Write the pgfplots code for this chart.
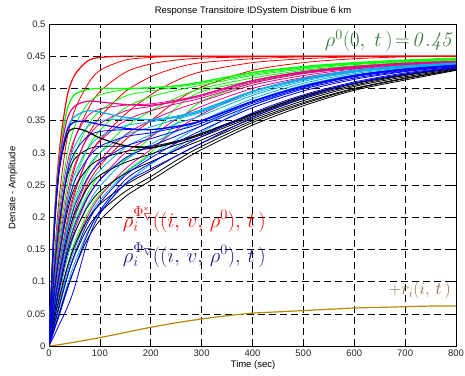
\documentclass[border=0pt]{standalone}
\usepackage{pgfplots}
\usepackage{pgfplotstable}
\pgfplotsset{compat=1.18}
\usepackage[no-math]{fontspec}
\setmainfont{Liberation Sans}
\definecolor{anngreen}{rgb}{0.24,0.47,0.24}
\definecolor{annnavy}{rgb}{0.12,0.12,0.55}
\definecolor{annbrown}{rgb}{0.55,0.42,0.25}
\definecolor{ochre}{rgb}{0.72,0.53,0.04}

\pgfplotstableread{
t c0 c1 c2 c3 c4 c5
0 0 0 0 0 0 0
10 0.19 0.13 0.095 0.075 0.06 0.05
20 0.30 0.23 0.175 0.14 0.115 0.095
35 0.385 0.32 0.265 0.22 0.185 0.155
50 0.42 0.365 0.32 0.275 0.235 0.2
75 0.442 0.405 0.365 0.325 0.29 0.25
100 0.448 0.428 0.395 0.355 0.32 0.28
150 0.45 0.444 0.425 0.395 0.36 0.32
200 0.45 0.448 0.438 0.418 0.39 0.35
250 0.45 0.45 0.444 0.432 0.412 0.38
300 0.45 0.45 0.447 0.44 0.426 0.402
400 0.45 0.45 0.449 0.446 0.44 0.428
500 0.45 0.45 0.45 0.449 0.446 0.44
600 0.45 0.45 0.45 0.45 0.449 0.446
700 0.45 0.45 0.45 0.45 0.45 0.449
800 0.45 0.45 0.45 0.45 0.45 0.45
}\redtab

\pgfplotstableread{
t c0 c1 c2 c3 c4 c5 c6
0 0 0 0 0 0 0 0
10 0.185 0.125 0.09 0.072 0.058 0.048 0.038
20 0.29 0.215 0.165 0.132 0.11 0.09 0.072
35 0.365 0.295 0.245 0.205 0.175 0.148 0.12
50 0.39 0.34 0.295 0.255 0.22 0.19 0.16
75 0.398 0.375 0.34 0.305 0.27 0.235 0.205
100 0.40 0.39 0.365 0.335 0.30 0.265 0.235
150 0.40 0.398 0.388 0.37 0.34 0.29 0.27
200 0.401 0.401 0.396 0.387 0.365 0.325 0.30
250 0.404 0.404 0.402 0.397 0.385 0.37 0.345
300 0.41 0.41 0.408 0.405 0.40 0.395 0.38
400 0.425 0.424 0.422 0.42 0.416 0.412 0.408
500 0.434 0.433 0.432 0.43 0.428 0.425 0.423
600 0.44 0.439 0.438 0.437 0.435 0.433 0.432
700 0.444 0.443 0.442 0.441 0.44 0.438 0.437
800 0.447 0.446 0.445 0.444 0.443 0.442 0.441
}\greentab

\pgfplotstableread{
t c0 c1 c2 c3 c4 c5 c6
0 0 0 0 0 0 0 0
10 0.18 0.12 0.088 0.07 0.056 0.046 0.036
20 0.285 0.205 0.155 0.125 0.102 0.086 0.07
35 0.35 0.28 0.232 0.192 0.162 0.14 0.118
50 0.372 0.322 0.28 0.24 0.208 0.18 0.155
75 0.38 0.356 0.322 0.29 0.258 0.228 0.20
100 0.379 0.368 0.345 0.318 0.288 0.258 0.232
150 0.375 0.374 0.365 0.35 0.328 0.30 0.275
200 0.374 0.376 0.372 0.365 0.35 0.325 0.305
250 0.38 0.382 0.38 0.376 0.367 0.352 0.335
300 0.39 0.39 0.388 0.385 0.38 0.372 0.36
400 0.412 0.412 0.41 0.408 0.405 0.40 0.395
500 0.426 0.425 0.424 0.423 0.42 0.417 0.414
600 0.434 0.433 0.432 0.431 0.43 0.428 0.426
700 0.439 0.438 0.437 0.437 0.436 0.435 0.434
800 0.442 0.441 0.441 0.44 0.44 0.439 0.438
}\magtab

\pgfplotstableread{
t c0 c1 c2 c3 c4 c5 c6 c7
0 0 0 0 0 0 0 0 0
10 0.175 0.115 0.085 0.066 0.052 0.043 0.034 0.026
20 0.275 0.195 0.148 0.118 0.097 0.081 0.066 0.052
35 0.335 0.27 0.222 0.182 0.155 0.133 0.112 0.092
50 0.356 0.31 0.266 0.228 0.198 0.173 0.15 0.128
75 0.365 0.34 0.305 0.275 0.245 0.218 0.195 0.175
100 0.363 0.35 0.325 0.30 0.273 0.248 0.226 0.208
150 0.355 0.352 0.342 0.327 0.308 0.288 0.268 0.252
200 0.351 0.352 0.348 0.34 0.328 0.313 0.296 0.282
250 0.355 0.357 0.356 0.352 0.345 0.333 0.32 0.308
300 0.365 0.367 0.367 0.363 0.358 0.35 0.342 0.332
400 0.395 0.396 0.395 0.392 0.389 0.384 0.38 0.374
500 0.415 0.416 0.415 0.413 0.411 0.408 0.405 0.401
600 0.428 0.428 0.427 0.426 0.425 0.423 0.421 0.419
700 0.435 0.435 0.434 0.433 0.433 0.432 0.431 0.43
800 0.439 0.439 0.438 0.438 0.437 0.437 0.436 0.436
}\cyantab

\pgfplotstableread{
t c0 c1 c2 c3 c4 c5 c6 c7
0 0 0 0 0 0 0 0 0
10 0.175 0.112 0.082 0.062 0.049 0.016 0.03 0.024
20 0.275 0.19 0.142 0.112 0.092 0.033 0.06 0.047
35 0.333 0.265 0.212 0.172 0.146 0.058 0.105 0.085
50 0.348 0.30 0.255 0.216 0.186 0.09 0.142 0.12
75 0.348 0.325 0.29 0.26 0.23 0.16 0.19 0.172
100 0.344 0.333 0.31 0.285 0.258 0.205 0.222 0.21
150 0.338 0.336 0.325 0.31 0.292 0.252 0.265 0.258
200 0.336 0.336 0.331 0.322 0.31 0.275 0.292 0.284
250 0.341 0.341 0.339 0.334 0.326 0.295 0.315 0.305
300 0.35 0.35 0.349 0.346 0.342 0.315 0.335 0.325
400 0.38 0.38 0.379 0.377 0.374 0.355 0.37 0.362
500 0.403 0.404 0.403 0.401 0.399 0.385 0.396 0.39
600 0.42 0.42 0.419 0.418 0.416 0.408 0.414 0.41
700 0.43 0.43 0.429 0.428 0.427 0.422 0.426 0.424
800 0.436 0.436 0.435 0.435 0.434 0.431 0.434 0.433
}\bluetab

\pgfplotstableread{
t c0 c1 c2 c3 c4 c5 c6 c7
0 0 0 0 0 0 0 0 0
10 0.175 0.11 0.08 0.06 0.047 0.04 0.032 0.025
20 0.272 0.188 0.14 0.11 0.088 0.075 0.062 0.05
35 0.327 0.26 0.205 0.165 0.14 0.12 0.105 0.088
50 0.338 0.29 0.245 0.205 0.175 0.155 0.14 0.12
75 0.333 0.305 0.275 0.245 0.215 0.195 0.182 0.165
100 0.323 0.31 0.29 0.265 0.24 0.22 0.208 0.195
150 0.311 0.31 0.302 0.285 0.268 0.25 0.24 0.232
200 0.308 0.31 0.307 0.298 0.286 0.272 0.263 0.257
250 0.317 0.318 0.316 0.312 0.304 0.295 0.288 0.282
300 0.33 0.33 0.328 0.325 0.32 0.315 0.31 0.305
400 0.36 0.36 0.358 0.356 0.353 0.35 0.347 0.343
500 0.388 0.388 0.386 0.384 0.381 0.378 0.376 0.373
600 0.408 0.408 0.407 0.405 0.403 0.40 0.399 0.397
700 0.422 0.422 0.421 0.42 0.418 0.416 0.415 0.413
800 0.432 0.432 0.432 0.431 0.43 0.429 0.429 0.428
}\blacktab

\pgfplotstableread{
t r
0 0
20 0.002
50 0.006
100 0.013
150 0.021
200 0.029
250 0.036
300 0.042
350 0.047
400 0.051
450 0.053
500 0.055
550 0.057
600 0.059
650 0.060
700 0.061
750 0.062
800 0.062
}\ochretab

\begin{document}
\begin{tikzpicture}
\begin{axis}[
  at={(49bp,30bp)}, anchor=south west,
  scale only axis, width=407bp, height=322bp,
  xmin=0, xmax=800, ymin=0, ymax=0.5,
  xtick={0,100,200,300,400,500,600,700,800},
  ytick={0,0.05,0.1,0.15,0.2,0.25,0.3,0.35,0.4,0.45,0.5},
  yticklabels={0,0.05,0.1,0.15,0.2,0.25,0.3,0.35,0.4,0.45,0.5},
  /pgf/number format/assume math mode=true,
  ticklabel style={font=\fontsize{9.5}{11}\selectfont, text=black!85},
  grid=major,
  major grid style={black, line width=0.5bp, dash pattern=on 6.5bp off 4.5bp},
  tick style={black, line width=0.5bp},
  major tick length=4bp,
  axis line style={black, line width=0.8bp},
  every axis plot/.append style={line width=0.8bp, smooth},
  clip=true,
]
\addplot[red, line width=1.2bp] table[x=t,y=c0]{\redtab};
\pgfplotsinvokeforeach{1,2,3,4,5}{\addplot[red] table[x=t,y=c#1]{\redtab};}
\addplot[green, line width=1.2bp] table[x=t,y=c0]{\greentab};
\pgfplotsinvokeforeach{1,2,3,4,5,6}{\addplot[green] table[x=t,y=c#1]{\greentab};}
\addplot[magenta, line width=1.2bp] table[x=t,y=c0]{\magtab};
\pgfplotsinvokeforeach{1,2,3,4,5,6}{\addplot[magenta] table[x=t,y=c#1]{\magtab};}
\addplot[cyan, line width=1.2bp] table[x=t,y=c0]{\cyantab};
\pgfplotsinvokeforeach{1,2,3,4,5,6,7}{\addplot[cyan] table[x=t,y=c#1]{\cyantab};}
\addplot[black, line width=1.2bp] table[x=t,y=c0]{\blacktab};
\pgfplotsinvokeforeach{1,2,3,4,5,6,7}{\addplot[black] table[x=t,y=c#1]{\blacktab};}
\addplot[blue, line width=1.2bp] table[x=t,y=c0]{\bluetab};
\pgfplotsinvokeforeach{1,2,3,4,5,6,7}{\addplot[blue] table[x=t,y=c#1]{\bluetab};}
\addplot[ochre, line width=1.2bp] table[x=t,y=r]{\ochretab};

\node[anchor=east, inner sep=0pt, text=anngreen, font=\fontsize{20}{24}\selectfont] at (axis cs:797,0.474)
  {$\rho^{0}\big(0,\;t\,\big)\!=\!\mathit{0.45}$};
\node[anchor=west, inner sep=0pt, text=red, font=\fontsize{20}{24}\selectfont] at (axis cs:145,0.196)
  {$\rho_i^{\Phi^{*}_{\nabla}}\Big(\big(i,\,v,\,\rho^{0}\big),\,t\,\Big)$};
\node[anchor=west, inner sep=0pt, text=annnavy, font=\fontsize{20}{24}\selectfont] at (axis cs:145,0.141)
  {$\rho_i^{\Phi_{\nabla}}\Big(\big(i,\,v,\,\rho^{0}\big),\,t\,\Big)$};
\node[anchor=east, inner sep=0pt, text=annbrown, font=\fontsize{17}{20}\selectfont] at (axis cs:790,0.086)
  {$+r_i\big(i,\,t\,\big)$};
\end{axis}
\node[font=\fontsize{9.5}{11}\selectfont] at (253bp,365bp) {Response Transitoire IDSystem Distribue 6 km};
\node[font=\fontsize{9.5}{11}\selectfont] at (253bp,11bp) {Time (sec)};
\node[rotate=90, font=\fontsize{9.5}{11}\selectfont] at (13bp,188bp) {Densite - Amplitude};
\pgfresetboundingbox
\useasboundingbox (0,0) rectangle (465bp,376bp);
\end{tikzpicture}
\end{document}
